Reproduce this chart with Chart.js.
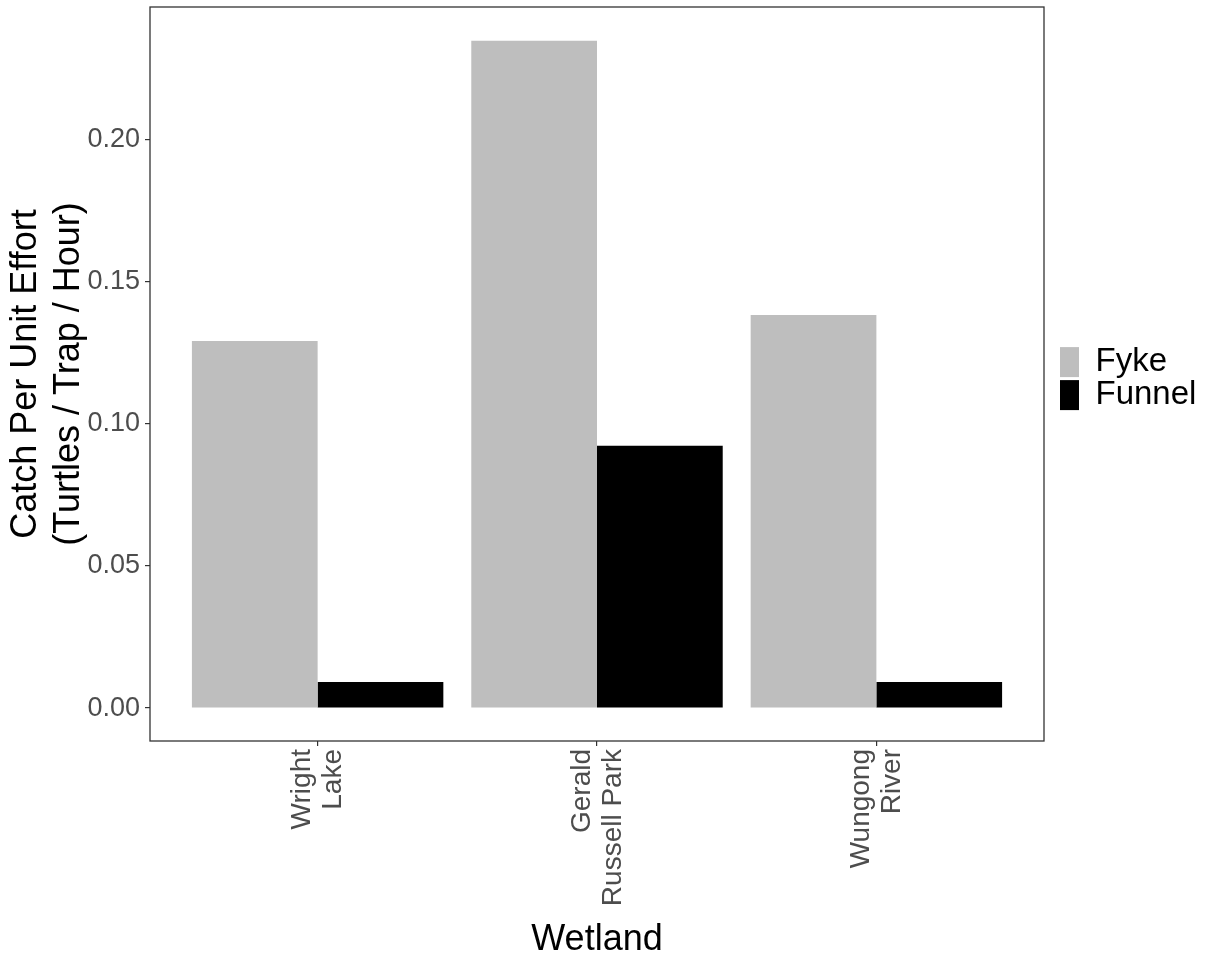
<!DOCTYPE html>
<html>
<head>
<meta charset="utf-8"/>
<title>CPUE by wetland</title>
<script src="https://cdn.jsdelivr.net/npm/chart.js"></script>
<style>
  body { margin: 0; background: #ffffff; }
  #wrap { width: 1205px; height: 958px; }
</style>
</head>
<body>
<div id="wrap"><canvas id="cpue" width="1205" height="958"></canvas></div>
<script>
  // values
  const wetlands = [['Wright', 'Lake'], ['Gerald', 'Russell Park'], ['Wungong', 'River']];
  const fyke = [0.1292, 0.2349, 0.1384];
  const funnel = [0.0092, 0.0923, 0.0092];
  const yTicks = [0, 0.05, 0.10, 0.15, 0.20];

  const FONT = "'Liberation Sans', Arial, sans-serif";

  // ggplot-style panel border
  const panelBorder = {
    id: 'panelBorder',
    afterDraw(chart) {
      const a = chart.chartArea, c = chart.ctx;
      c.save();
      c.strokeStyle = '#333333';
      c.lineWidth = 1.3;
      c.strokeRect(a.left, a.top, a.right - a.left, a.bottom - a.top);
      c.restore();
    }
  };

  const toPoints = arr => arr.map((v, i) => ({ x: i + 1, y: v }));

  new Chart(document.getElementById('cpue'), {
    type: 'bar',
    data: {
      datasets: [
        { label: 'Fyke', data: toPoints(fyke), backgroundColor: '#bebebe', borderWidth: 0 },
        { label: 'Funnel', data: toPoints(funnel), backgroundColor: '#000000', borderWidth: 0 }
      ]
    },
    options: {
      responsive: false,
      animation: false,
      categoryPercentage: 0.9,
      barPercentage: 1.0,
      layout: { padding: { top: 7, right: 0, bottom: 0, left: 0 } },
      plugins: {
        tooltip: { enabled: false },
        legend: {
          position: 'right',
          fullSize: false,
          maxWidth: 145,
          title: { display: true, text: '', font: { size: 1 }, padding: { top: 4, bottom: 4 } },
          labels: {
            boxWidth: 19,
            boxHeight: 30,
            padding: 0,
            color: '#000000',
            font: { family: FONT, size: 33 }
          }
        }
      },
      scales: {
        x: {
          type: 'linear',
          min: 0.4,
          max: 3.6,
          offset: false,
          afterBuildTicks(s) { s.ticks = wetlands.map((w, i) => ({ value: i + 1 })); },
          afterFit(s) { s.height = 217; s.paddingLeft = 0; s.paddingRight = 0; },
          grid: { drawOnChartArea: false, offset: false, color: '#333333', tickLength: 5, lineWidth: 1.2 },
          border: { display: false },
          ticks: {
            autoSkip: false,
            minRotation: 90,
            maxRotation: 90,
            padding: 3,
            labelOffset: -15,
            color: '#4d4d4d',
            font: { family: FONT, size: 28, lineHeight: 1.1 },
            callback: v => wetlands[Math.round(v) - 1]
          },
          title: {
            display: true,
            text: 'Wetland',
            color: '#000000',
            padding: { top: 0, bottom: 0 },
            font: { family: FONT, size: 36, lineHeight: 1.0 }
          }
        },
        y: {
          min: -0.0116,
          max: 0.2468,
          afterBuildTicks(s) { s.ticks = yTicks.map(v => ({ value: v })); },
          afterFit(s) { s.width = 150; s.paddingTop = 0; s.paddingBottom = 0; },
          grid: { drawOnChartArea: false, color: '#333333', tickLength: 5, lineWidth: 1.2 },
          border: { display: false },
          ticks: {
            padding: 5,
            color: '#4d4d4d',
            font: { family: FONT, size: 27 },
            callback: v => v.toFixed(2)
          },
          title: {
            display: true,
            text: ['Catch Per Unit Effort', '(Turtles / Trap / Hour)'],
            color: '#000000',
            padding: { top: 5, bottom: 0 },
            font: { family: FONT, size: 36, lineHeight: 1.18 }
          }
        },
        // spacer between panel and legend
        gap: {
          type: 'linear',
          position: 'right',
          display: true,
          grid: { display: false },
          border: { display: false },
          ticks: { display: false },
          afterFit(s) { s.width = 16; }
        }
      }
    },
    plugins: [panelBorder]
  });
</script>
</body>
</html>
